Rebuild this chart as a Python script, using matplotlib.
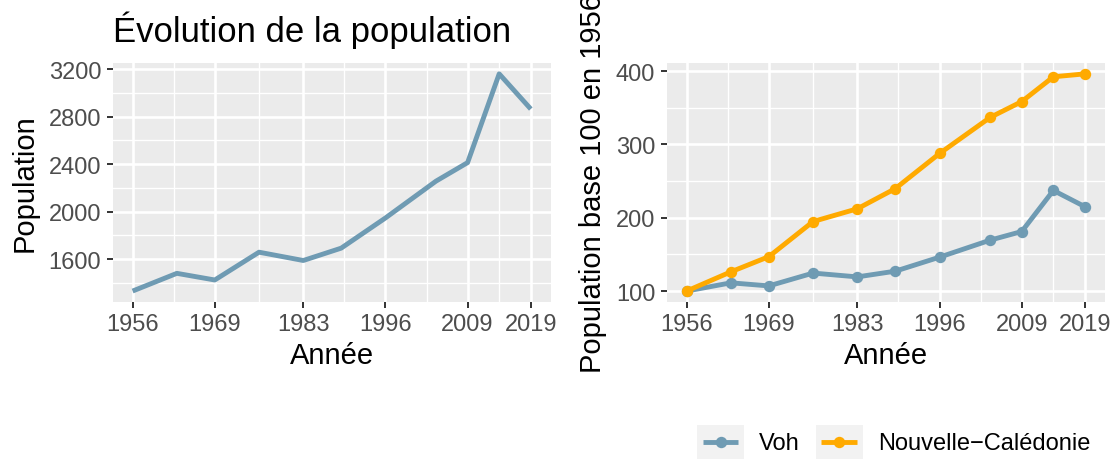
import matplotlib
matplotlib.use("Agg")
import matplotlib.pyplot as plt
from matplotlib.patches import Rectangle
from matplotlib.lines import Line2D
from matplotlib.legend_handler import HandlerBase

# ---------------- data ----------------
years = [1956, 1963, 1969, 1976, 1983, 1989, 1996, 2004, 2009, 2014, 2019]
voh_population = [1332, 1481, 1425, 1659, 1589, 1693, 1947, 2257, 2413, 3160, 2864]
voh_index = [100, 111.2, 107.0, 124.5, 119.3, 127.1, 146.2, 169.4, 181.2, 237.2, 215.0]
nc_index = [100, 126.2, 146.9, 194.8, 212.2, 239.7, 287.6, 336.8, 358.4, 392.2, 396.2]
series_names = ["Voh", "Nouvelle\u2212Calédonie"]
x_breaks = [1956, 1969, 1983, 1996, 2009, 2019]
left_y_breaks = [1600, 2000, 2400, 2800, 3200]
right_y_breaks = [100, 200, 300, 400]

# ---------------- style ----------------
BLUE = "#6F9BB3"
ORANGE = "#FFAA00"
PANEL = "#EBEBEB"
KEYBG = "#F2F2F2"
TICKCOL = "#333333"
LABCOL = "#4D4D4D"
LW = 3.5
MS = 8.2
TITLE_FS = 25.0
AXTITLE_FS = 21.0
TICK_FS = 17.0

plt.rcParams["font.family"] = ["Liberation Sans", "DejaVu Sans"]

W, H = 1113, 460
fig = plt.figure(figsize=(W / 100, H / 100), dpi=100)

panel_bottom = (H - 302.9) / H
panel_h = 238.9 / H
axL = fig.add_axes([112.7 / W, panel_bottom, 438.0 / W, panel_h])
axR = fig.add_axes([666.7 / W, panel_bottom, 438.2 / W, panel_h])


def expand(lo, hi, f=0.05):
    r = hi - lo
    return lo - f * r, hi + f * r


def midpoints(b):
    return [(b[i] + b[i + 1]) / 2 for i in range(len(b) - 1)]


def style_axes(ax, ybreaks, ylim):
    ax.set_facecolor(PANEL)
    for s in ax.spines.values():
        s.set_visible(False)
    ax.set_axisbelow(True)
    ax.set_xlim(*expand(min(years), max(years)))
    ax.set_ylim(*ylim)
    ax.set_xticks(x_breaks)
    ax.set_xticklabels([str(b) for b in x_breaks])
    ax.set_xticks(midpoints(x_breaks), minor=True)
    ax.set_yticks(ybreaks)
    ax.set_yticklabels([str(b) for b in ybreaks])
    step = ybreaks[1] - ybreaks[0]
    yminor = [ybreaks[0] - step / 2] + midpoints(ybreaks) + [ybreaks[-1] + step / 2]
    yminor = [v for v in yminor if ylim[0] <= v <= ylim[1]]
    ax.set_yticks(yminor, minor=True)
    ax.grid(which="major", color="white", linewidth=1.9)
    ax.grid(which="minor", color="white", linewidth=0.95)
    ax.tick_params(which="major", direction="out", length=4.3, width=1.4,
                   color=TICKCOL, labelcolor=LABCOL, labelsize=TICK_FS)
    ax.tick_params(axis="x", which="major", pad=4.0)
    ax.tick_params(axis="y", which="major", pad=4.0)
    ax.tick_params(which="minor", length=0)
    ax.set_xlabel("Année", fontsize=AXTITLE_FS, color="black", labelpad=4.0)


# ---------------- left panel ----------------
style_axes(axL, left_y_breaks, expand(min(voh_population), max(voh_population)))
axL.plot(years, voh_population, color=BLUE, lw=LW, solid_capstyle="butt",
         solid_joinstyle="round")
axL.set_ylabel("Population", fontsize=AXTITLE_FS, color="black", labelpad=7)

# ---------------- right panel ----------------
all_idx = voh_index + nc_index
style_axes(axR, right_y_breaks, expand(min(all_idx), max(all_idx)))
axR.plot(years, voh_index, color=BLUE, lw=LW, marker="o", ms=MS, mew=0,
         solid_capstyle="butt", solid_joinstyle="round")
axR.plot(years, nc_index, color=ORANGE, lw=LW, marker="o", ms=MS, mew=0,
         solid_capstyle="butt", solid_joinstyle="round")
axR.set_ylabel("Population base 100 en 1956", fontsize=AXTITLE_FS, color="black",
               labelpad=6)

# ---------------- title ----------------
fig.text(112.7 / W, 1 - 42.3 / H, "Évolution de la population", fontsize=TITLE_FS,
         ha="left", va="baseline", color="black")


# ---------------- legend ----------------
class KeyHandler(HandlerBase):
    def create_artists(self, legend, orig_handle, xdescent, ydescent, width, height,
                       fontsize, trans):
        rect = Rectangle((-xdescent, -ydescent), width, height, facecolor=KEYBG,
                         edgecolor="none", transform=trans)
        yc = -ydescent + height / 2
        x0 = -xdescent + width * 0.12
        x1 = -xdescent + width * 0.88
        col = orig_handle.get_color()
        line = Line2D([x0, x1], [yc, yc], color=col, lw=LW, solid_capstyle="butt",
                      transform=trans)
        dot = Line2D([-xdescent + width / 2], [yc], color=col, marker="o", ms=MS,
                     mew=0, linestyle="none", transform=trans)
        return [rect, line, dot]


handles = [Line2D([], [], color=BLUE), Line2D([], [], color=ORANGE)]
LEG_FS = 17.0
fs_px = LEG_FS * 100 / 72
fig.legend(handles, series_names, loc="lower left", bbox_to_anchor=(697 / W, 0.0),
           ncol=2, frameon=False, borderpad=0, borderaxespad=0,
           handlelength=47 / fs_px, handleheight=44 / fs_px,
           handletextpad=15 / fs_px, columnspacing=16 / fs_px,
           fontsize=LEG_FS, handler_map={Line2D: KeyHandler()})

fig.savefig("out.png", dpi=100, facecolor="white")
